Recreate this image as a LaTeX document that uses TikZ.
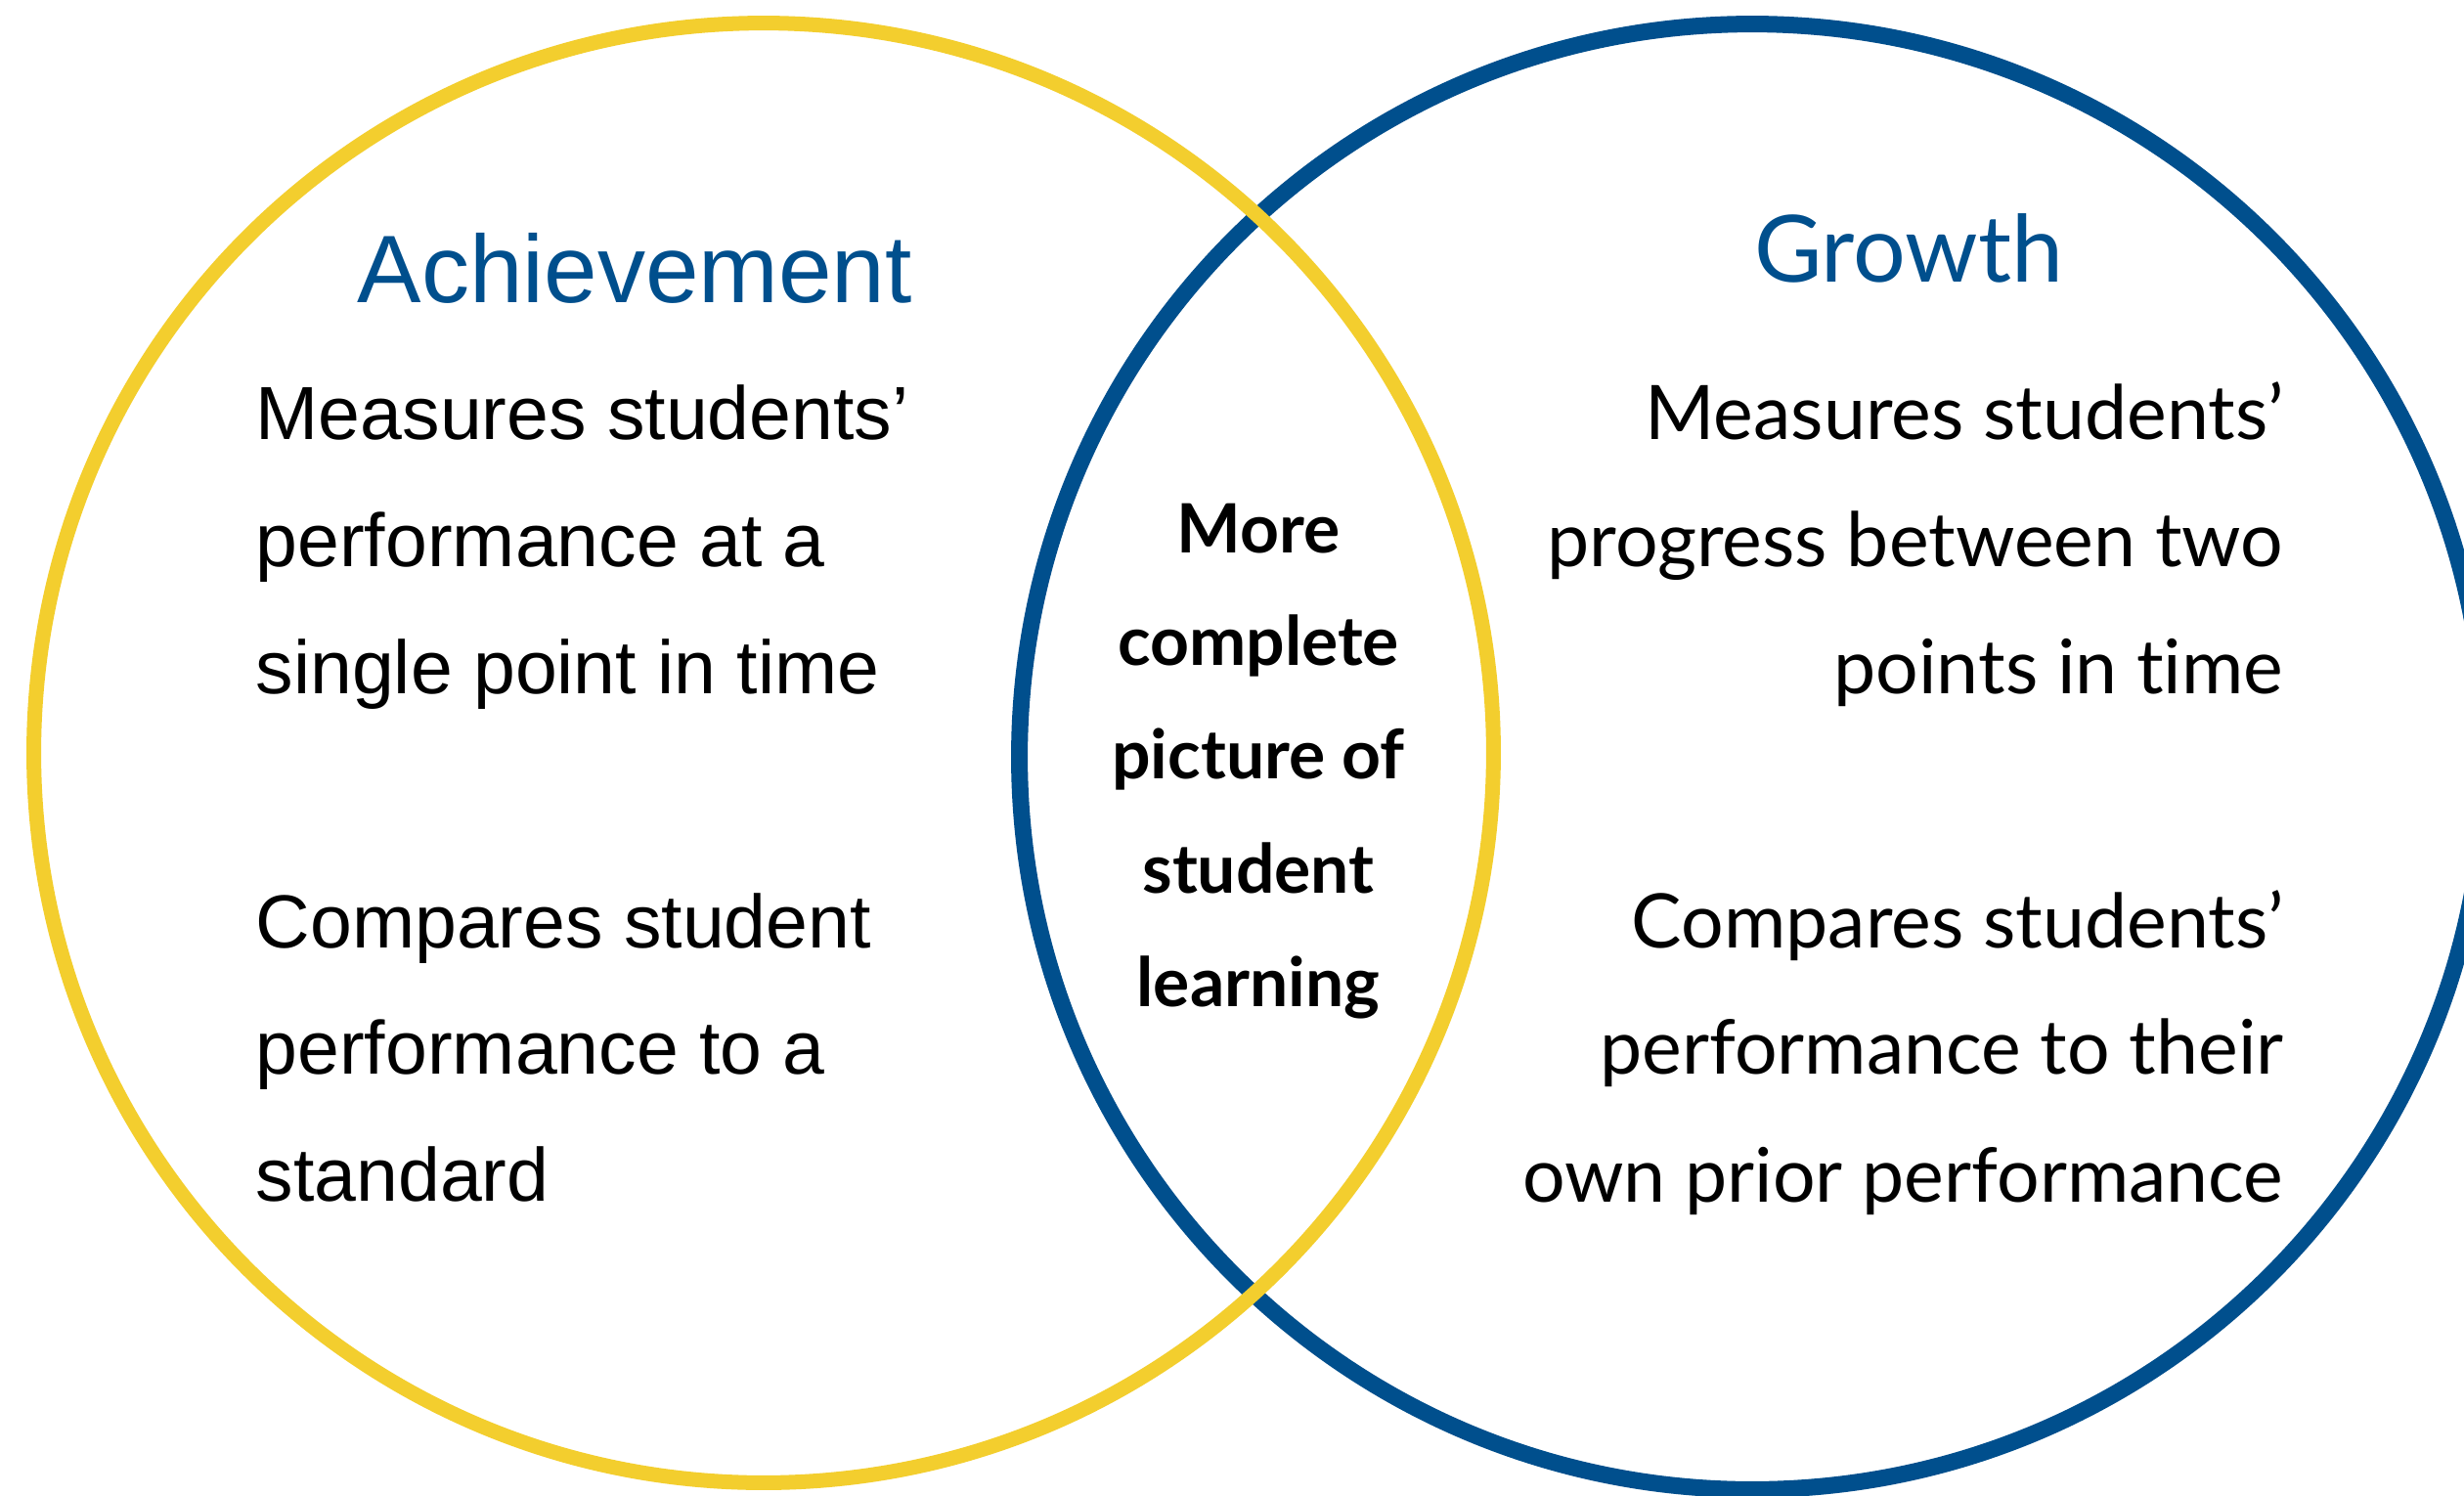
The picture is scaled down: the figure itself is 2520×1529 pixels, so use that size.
\documentclass[tikz,border=0pt]{standalone}
\usepackage{fontspec}
\setmainfont{Liberation Sans}
\newfontfamily\lato[Ligatures=CommonOff]{Lato}
\definecolor{vblue}{RGB}{0,79,141}
\definecolor{vyellow}{RGB}{243,206,46}
\begin{document}
\begin{tikzpicture}[x=0.01cm,y=-0.01cm,
  ring/.style={circle, draw, inner sep=0pt},
  lefttxt/.style={anchor=base west, inner sep=0pt, font=\fontsize{21.9}{26}\selectfont},
  righttxt/.style={anchor=base east, inner sep=0pt, font=\lato\fontsize{21.9}{26}\selectfont},
  midtxt/.style={anchor=base, inner sep=0pt, font=\lato\bfseries\fontsize{19.8}{24}\selectfont},
  title/.style={inner sep=0pt, text=vblue},
]
\useasboundingbox (0,0) rectangle (2520,1529);
\clip (0,0) rectangle (2520,1529);
\fill[white] (0,0) rectangle (2520,1529);
\node[ring, draw=vblue, line width=4.84pt, minimum size=14.98cm] (gro) at (1792,774) {};
\node[ring, draw=vyellow, line width=4.27pt, minimum size=14.92cm] (ach) at (781,770) {};

\node[title, anchor=base west, font=\fontsize{27.9}{32}\selectfont] (tach) at (365,309) {Achievement};
\node[title, anchor=base, font=\lato\fontsize{27}{32}\selectfont] (tgro) at (1952,288) {Growth};

\node[lefttxt] (l1) at (261,449) {Measures students’};
\node[lefttxt] (l2) at (261,579) {performance at a};
\node[lefttxt] (l3) at (261,709) {single point in time};
\node[lefttxt] (l4) at (261,969) {Compares student};
\node[lefttxt] (l5) at (261,1098) {performance to a};
\node[lefttxt] (l6) at (261,1228) {standard};

\node[righttxt] (r1) at (2336,449) {Measures students’};
\node[righttxt] (r2) at (2336,579) {progress between two};
\node[righttxt] (r3) at (2336,709) {points in time};
\node[righttxt] (r4) at (2336,969) {Compares students’};
\node[righttxt] (r5) at (2336,1098) {performance to their};
\node[righttxt] (r6) at (2336,1229) {own prior performance};

\node[midtxt] (m1) at (1287,565) {More};
\node[midtxt] (m2) at (1287,680) {complete};
\node[midtxt] (m3) at (1287,796) {picture of};
\node[midtxt] (m4) at (1287,913) {student};
\node[midtxt] (m5) at (1287,1029) {learning};
\end{tikzpicture}
\end{document}
